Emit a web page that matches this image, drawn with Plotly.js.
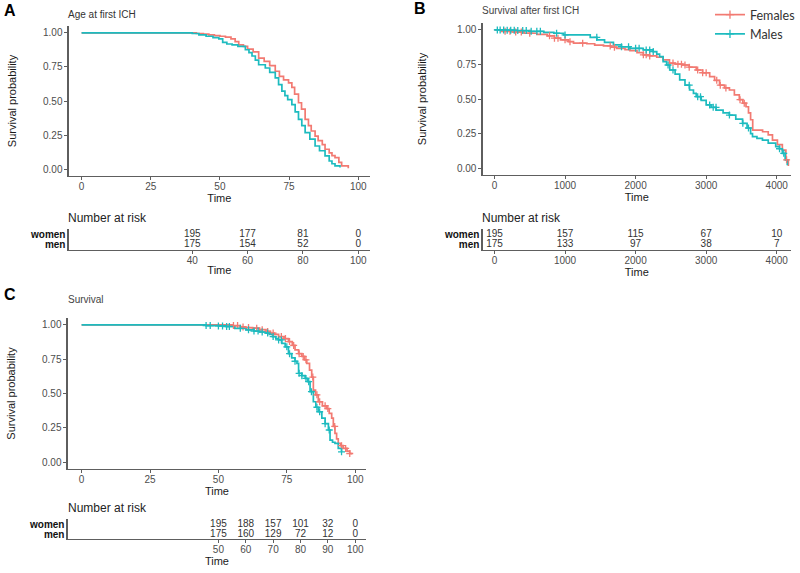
<!DOCTYPE html>
<html>
<head>
<meta charset="utf-8">
<script src="https://cdn.plot.ly/plotly-3.0.1.min.js"></script>
<style>html,body{margin:0;padding:0;background:#fff;}#chart{width:800px;height:573px;}</style>
</head>
<body>
<div id="chart"></div>
<script>
// ---------- DATA ----------
// Panel A: Age at first ICH (Kaplan-Meier step points)
const aFemT = [0, 41.5, 44, 46, 48, 50, 52, 54, 55.5, 56.8, 58.5, 60, 62, 64, 66, 68, 70, 71.5, 73, 74.8, 76, 77, 78.4, 79.5, 80.8, 82, 83, 84.4, 85.5, 87, 88, 89.5, 90.5, 91.6, 93, 94, 96.4];
const aFemS = [1, 0.995, 0.99, 0.985, 0.98, 0.975, 0.968, 0.955, 0.935, 0.912, 0.9, 0.88, 0.86, 0.815, 0.79, 0.76, 0.718, 0.68, 0.655, 0.633, 0.6, 0.55, 0.487, 0.44, 0.365, 0.32, 0.28, 0.243, 0.21, 0.18, 0.146, 0.12, 0.1, 0.085, 0.05, 0.024, 0.007];
const aMalT = [0, 40, 42.4, 45, 47.5, 49.6, 51, 52.5, 54.4, 56.5, 59.2, 60.5, 61.6, 62.8, 64, 66.4, 68, 70, 71.2, 72.4, 73.5, 74.5, 76, 77.2, 78.4, 79.6, 80.8, 82.5, 84.4, 86, 88, 89.5, 90.5, 91.6, 93.4];
const aMalS = [1, 0.995, 0.985, 0.975, 0.965, 0.955, 0.93, 0.918, 0.912, 0.9, 0.876, 0.855, 0.83, 0.8, 0.766, 0.742, 0.71, 0.67, 0.62, 0.572, 0.54, 0.51, 0.474, 0.42, 0.365, 0.32, 0.268, 0.22, 0.17, 0.135, 0.097, 0.06, 0.04, 0.024, 0.012];
const aRiskTimes = [40, 60, 80, 100];
const aRiskWomen = [195, 177, 81, 0];
const aRiskMen = [175, 154, 52, 0];

// Panel B: Survival after first ICH
const bFemT = [0, 100, 250, 420, 600, 750, 850, 935, 1050, 1120, 1310, 1420, 1545, 1650, 1730, 1850, 1920, 2020, 2110, 2200, 2300, 2390, 2480, 2560, 2670, 2760, 2860, 2950, 3050, 3120, 3190, 3260, 3330, 3400, 3470, 3520, 3565, 3600, 3630, 3660, 3800, 3880, 3940, 4010, 4080, 4130, 4165];
const bFemS = [1, 0.99, 0.985, 0.976, 0.968, 0.957, 0.94, 0.928, 0.915, 0.904, 0.9, 0.89, 0.884, 0.875, 0.867, 0.858, 0.85, 0.835, 0.82, 0.812, 0.802, 0.783, 0.76, 0.752, 0.746, 0.73, 0.71, 0.69, 0.662, 0.635, 0.6, 0.58, 0.565, 0.53, 0.495, 0.47, 0.444, 0.4, 0.35, 0.275, 0.263, 0.24, 0.203, 0.17, 0.13, 0.06, 0.015];
const bMalT = [0, 150, 300, 507, 700, 841, 981, 1216, 1357, 1451, 1560, 1686, 1800, 1920, 2108, 2249, 2300, 2340, 2390, 2440, 2484, 2560, 2625, 2700, 2765, 2820, 2859, 2930, 3000, 3070, 3141, 3240, 3329, 3420, 3516, 3580, 3630, 3657, 3720, 3798, 3880, 3986, 4040, 4080, 4120, 4150];
const bMalS = [1, 0.998, 0.995, 0.99, 0.982, 0.976, 0.964, 0.964, 0.946, 0.928, 0.91, 0.891, 0.878, 0.867, 0.855, 0.843, 0.825, 0.807, 0.77, 0.746, 0.71, 0.68, 0.638, 0.6, 0.565, 0.54, 0.517, 0.49, 0.457, 0.44, 0.42, 0.4, 0.384, 0.355, 0.324, 0.29, 0.25, 0.227, 0.215, 0.203, 0.18, 0.155, 0.14, 0.107, 0.06, 0.02];
const bFemCensor = [150, 220, 300, 380, 500, 780, 850, 900, 1000, 1070, 1250, 1640, 1700, 2110, 2150, 2200, 2530, 2600, 2650, 2700, 2760, 2880, 2950, 3000, 3150, 3200, 3280, 3480, 3540, 4140];
const bMalCensor = [40, 80, 130, 180, 230, 280, 330, 400, 450, 520, 600, 650, 880, 1000, 1450, 1800, 1900, 2000, 2050, 2150, 2200, 2250, 2460, 2530, 2760, 2880, 2920, 3050, 3100, 3140, 3330, 3520, 3600, 4040, 4100];
const bRiskTimes = [0, 1000, 2000, 3000, 4000];
const bRiskWomen = [195, 157, 115, 67, 10];
const bRiskMen = [175, 133, 97, 38, 7];

// Panel C: Survival
const cFemT = [0, 55, 58, 60, 62.5, 65, 67.4, 69, 70.5, 72, 74, 75.6, 77, 78, 79.3, 80.5, 81.5, 82.3, 83.3, 84.1, 84.7, 85.5, 86.5, 88, 89.6, 90.5, 91.4, 92, 92.6, 93.2, 93.8, 94.7, 95.6, 97, 98, 98.6];
const cFemS = [1, 0.995, 0.985, 0.98, 0.976, 0.965, 0.952, 0.94, 0.93, 0.915, 0.9, 0.878, 0.85, 0.818, 0.79, 0.77, 0.745, 0.72, 0.67, 0.62, 0.525, 0.49, 0.44, 0.41, 0.39, 0.355, 0.32, 0.26, 0.21, 0.17, 0.136, 0.12, 0.1, 0.08, 0.063, 0.055];
const cMalT = [0, 45.5, 50, 52.8, 56, 60.1, 63, 65, 67.4, 68.6, 69.8, 71, 72, 73.2, 74.4, 75.6, 76.8, 78, 78.7, 79.3, 80.5, 81.7, 82.6, 83.5, 84.7, 85.6, 86.5, 87.8, 89, 90.2, 90.8, 91.7, 92.6, 93.8, 95];
const cMalS = [1, 0.995, 0.992, 0.988, 0.975, 0.964, 0.955, 0.948, 0.94, 0.93, 0.915, 0.9, 0.89, 0.865, 0.84, 0.79, 0.76, 0.735, 0.72, 0.647, 0.63, 0.61, 0.586, 0.513, 0.44, 0.4, 0.367, 0.32, 0.28, 0.234, 0.16, 0.145, 0.136, 0.1, 0.075];
const cFemCensor = [55.5, 57, 59, 61, 64, 66, 68, 70, 73, 74.5, 76, 77.5, 79.5, 81, 82, 84.5, 86, 87, 89, 90, 92.5, 95, 96.5, 98];
const cMalCensor = [45.5, 47, 50, 51.5, 53, 54, 58, 61, 63, 64.5, 66, 68, 70, 72, 73, 75, 76, 78, 79.5, 80.5, 82, 83, 84, 86, 87, 89, 90.5, 95];
const cRiskTimes = [50, 60, 70, 80, 90, 100];
const cRiskWomen = [195, 188, 157, 101, 32, 0];
const cRiskMen = [175, 160, 129, 72, 12, 0];

const groups = ['Females', 'Males'];
const riskRows = ['men', 'women'];

// ---------- STYLE ----------
const RED = '#F27A72', TEAL = '#1DBBBF';
const FONT = 'Liberation Sans, Arial, sans-serif';
const AXC = '#5e5e5e';
const W = 800, H = 573;
const px = v => v / W;
const py = v => 1 - v / H;

// survival value at time t from a step curve
function stepAt(ts, ss, t) {
  let s = ss[0];
  for (let i = 0; i < ts.length; i++) { if (ts[i] <= t) s = ss[i]; else break; }
  return s;
}

const traces = [];
function curve(t, s, color, xa, ya) {
  traces.push({x: t, y: s, xaxis: xa, yaxis: ya, type: 'scatter', mode: 'lines',
    line: {color: color, width: 1.7, shape: 'hv'}, showlegend: false, hoverinfo: 'skip'});
}
function censor(times, t, s, color, xa, ya) {
  traces.push({x: times, y: times.map(v => stepAt(t, s, v)), xaxis: xa, yaxis: ya, type: 'scatter', mode: 'markers',
    marker: {symbol: 'cross-thin', size: 5, color: color, line: {color: color, width: 1.3}},
    showlegend: false, hoverinfo: 'skip'});
}
function risk(times, vals, row, xa, ya) {
  traces.push({x: times, y: times.map(() => row), text: vals.map(String), xaxis: xa, yaxis: ya,
    type: 'scatter', mode: 'text', textposition: 'middle center',
    textfont: {family: FONT, size: 10, color: '#333'}, showlegend: false, hoverinfo: 'skip'});
}

// Panel A
curve(aFemT, aFemS, RED, 'x', 'y');
curve(aMalT, aMalS, TEAL, 'x', 'y');
risk(aRiskTimes, aRiskWomen, 'women', 'x2', 'y2');
risk(aRiskTimes, aRiskMen, 'men', 'x2', 'y2');
// Panel B
curve(bFemT, bFemS, RED, 'x3', 'y3');
curve(bMalT, bMalS, TEAL, 'x3', 'y3');
censor(bFemCensor, bFemT, bFemS, RED, 'x3', 'y3');
censor(bMalCensor, bMalT, bMalS, TEAL, 'x3', 'y3');
risk(bRiskTimes, bRiskWomen, 'women', 'x4', 'y4');
risk(bRiskTimes, bRiskMen, 'men', 'x4', 'y4');
// Panel C
curve(cFemT, cFemS, RED, 'x5', 'y5');
curve(cMalT, cMalS, TEAL, 'x5', 'y5');
censor(cFemCensor, cFemT, cFemS, RED, 'x5', 'y5');
censor(cMalCensor, cMalT, cMalS, TEAL, 'x5', 'y5');
risk(cRiskTimes, cRiskWomen, 'women', 'x6', 'y6');
risk(cRiskTimes, cRiskMen, 'men', 'x6', 'y6');
// legend entries
[RED, TEAL].forEach((c, i) => traces.push({x: [null], y: [null], xaxis: 'x3', yaxis: 'y3', type: 'scatter',
  mode: 'lines+markers', name: groups[i], line: {color: c, width: 1.7},
  marker: {symbol: 'cross-thin', size: 6, color: c, line: {color: c, width: 1.3}}, showlegend: true}));

// ---------- AXES ----------
const tickfont = {family: FONT, size: 10, color: '#4d4d4d'};
const titlefont = {family: FONT, size: 11, color: '#1a1a1a'};
function xax(dom, range, tickvals, anchor, standoff) {
  return {domain: [px(dom[0]), px(dom[1])], range: range, anchor: anchor, tickvals: tickvals,
    showline: true, linecolor: AXC, linewidth: 1.2, ticks: 'outside', ticklen: 3, tickcolor: AXC, tickwidth: 1,
    ticklabelstandoff: -2,
    tickfont: tickfont, showgrid: false, zeroline: false, fixedrange: true,
    title: {text: 'Time', font: titlefont, standoff: standoff}};
}
function yax(dom, anchor, standoff) {
  return {domain: [py(dom[1]), py(dom[0])], range: [-0.05, 1.05], anchor: anchor,
    tickvals: [0, 0.25, 0.5, 0.75, 1], tickformat: '.2f',
    showline: true, linecolor: AXC, linewidth: 1.2, ticks: 'outside', ticklen: 3, tickcolor: AXC, tickwidth: 1,
    tickfont: tickfont, showgrid: false, zeroline: false, fixedrange: true,
    title: {text: 'Survival probability', font: titlefont, standoff: standoff}};
}
function tyax(dom, anchor) {
  return {domain: [py(dom[1]), py(dom[0])], type: 'category', categoryorder: 'array', categoryarray: riskRows,
    tickmode: 'array', tickvals: riskRows, ticktext: riskRows,
    range: [-0.5, 1.5], anchor: anchor, showline: true, linecolor: AXC, linewidth: 1.2, ticks: '',
    tickfont: {family: FONT, size: 10, color: '#111', weight: 'bold'}, showgrid: false, zeroline: false, fixedrange: true};
}

const aRange = [-4.68, 104.3], bRange = [-169, 4203], cRange = [-5.1, 104];
const layout = {
  width: W, height: H, margin: {l: 0, r: 0, t: 0, b: 0}, paper_bgcolor: '#fff', plot_bgcolor: 'rgba(0,0,0,0)',
  showlegend: true,
  legend: {x: 1.005, xanchor: 'right', y: 1, yanchor: 'top', bgcolor: 'rgba(0,0,0,0)', itemwidth: 30,
    font: {family: 'Lato, Noto Sans, sans-serif', size: 12.5, color: '#333'}, tracegroupgap: 0},
  xaxis: xax([69, 372], aRange, [0, 25, 50, 75, 100], 'y', 2),
  yaxis: yax([26, 176], 'x', 24),
  xaxis2: xax([69, 372], aRange, aRiskTimes, 'y2', 1),
  yaxis2: tyax([229, 250], 'x2'),
  xaxis3: xax([485, 795], bRange, [0, 1000, 2000, 3000, 4000], 'y3', 2),
  yaxis3: yax([23, 175], 'x3', 28),
  xaxis4: xax([485, 795], bRange, bRiskTimes, 'y4', 1),
  yaxis4: tyax([229, 250], 'x4'),
  xaxis5: xax([68, 368], cRange, [0, 25, 50, 75, 100], 'y5', 2),
  yaxis5: yax([318, 469], 'x5', 24),
  xaxis6: xax([68, 368], cRange, cRiskTimes, 'y6', 1),
  yaxis6: tyax([519, 539], 'x6'),
  annotations: []
};
function ann(text, x, y, size, color, bold) {
  layout.annotations.push({text: text, x: px(x), y: py(y), xref: 'paper', yref: 'paper', xanchor: 'left', yanchor: 'middle',
    showarrow: false, font: {family: FONT, size: size, color: color, weight: bold ? 'bold' : 'normal'}});
}
ann('A', 2, 10, 16, '#000', true);
ann('Age at first ICH', 66, 15, 10, '#333', false);
ann('B', 414, 9, 16, '#000', true);
ann('Survival after first ICH', 482, 10, 10, '#444', false);
ann('C', 2, 294, 16, '#000', true);
ann('Survival', 66, 299, 10, '#444', false);
ann('Number at risk', 66, 218, 12, '#222', false);
ann('Number at risk', 482, 218, 12, '#222', false);
ann('Number at risk', 66, 508, 12, '#222', false);

Plotly.newPlot('chart', traces, layout, {displayModeBar: false, staticPlot: true});
</script>
</body>
</html>
